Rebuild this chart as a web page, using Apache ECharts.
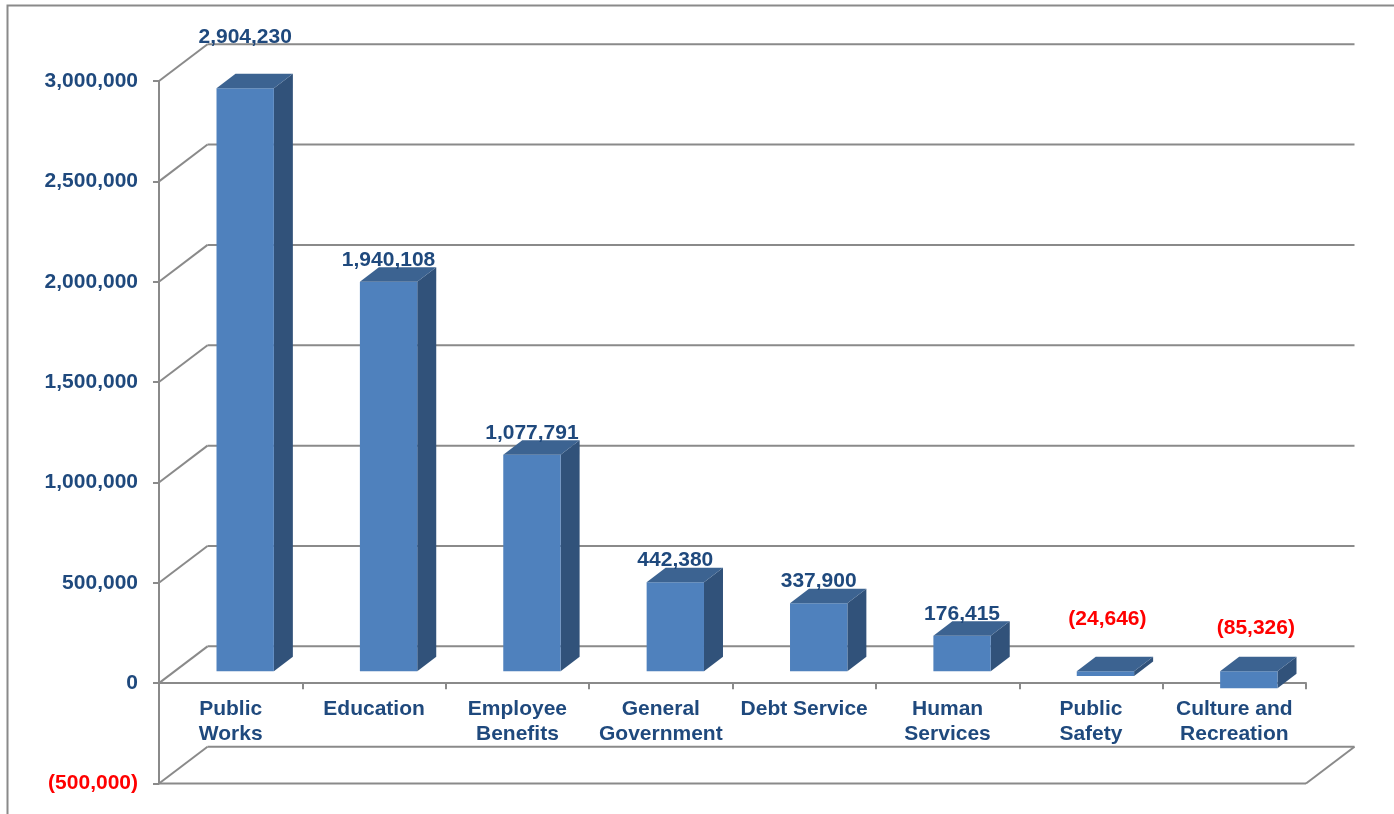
<!DOCTYPE html>
<html>
<head>
<meta charset="utf-8">
<title>Budget Change by Function</title>
<script src="https://cdn.jsdelivr.net/npm/echarts@6/dist/echarts.min.js"></script>
<style>
  html, body { margin: 0; padding: 0; background: #ffffff; }
  #chart { width: 1394px; height: 814px; }
</style>
</head>
<body>
<div id="chart"></div>
<script>
// Categories (two-line names as shown under the axis)
const categories = [
  'Public\nWorks',
  'Education',
  'Employee\nBenefits',
  'General\nGovernment',
  'Debt Service',
  'Human\nServices',
  'Public\nSafety',
  'Culture and\nRecreation'
];

// Change in dollars for each function
const values = [2904230, 1940108, 1077791, 442380, 337900, 176415, -24646, -85326];

// Value axis range and step
const yMin = -500000;
const yMax = 3000000;
const yStep = 500000;

// Plot area (front plane) in pixels
const GRID = { left: 159, right: 88, top: 81, bottom: 30.5 };
const CHART_H = 814;
const PLOT_H = CHART_H - GRID.top - GRID.bottom;
// distance from the bottom edge of the plot up to the zero line
const ZERO_RISE = PLOT_H * (0 - yMin) / (yMax - yMin);

// Pseudo-3D geometry (pixels)
const WALL_DX = 48.5, WALL_DY = -36.8;   // back wall offset from the front plane
const BAR_FX = 14.5, BAR_FY = -12;       // bar front face offset into the depth
const BAR_DX = 19, BAR_DY = -14.5;       // bar depth
const BAR_RATIO = 0.4;                   // bar width as a share of the band

const FONT = "'Liberation Sans', Arial, Helvetica, sans-serif";
const NAVY = '#1F497D';
const GRID_GRAY = '#8a8a8a';
const FRONT = '#4F81BD', SIDE = '#31527A', TOP = '#3C6391';

// Individual data-label nudges (dx, dy in px)
const labelNudge = {
  'Public\nWorks': [0, -29],
  'Public\nSafety': [2, -30],
  'Culture and\nRecreation': [7, -21]
};

function fmt(v) {
  const s = Math.abs(v).toLocaleString('en-US');
  return v < 0 ? '(' + s + ')' : s;
}

const chart = echarts.init(document.getElementById('chart'), null, { renderer: 'canvas' });

// Walls: diagonal tick connectors, back-wall gridlines and the floor outline
function renderWalls(params, api) {
  const cs = params.coordSys;
  const x0 = cs.x, x1 = cs.x + cs.width;
  const children = [];
  const line = (a, b, c, d) => children.push({
    type: 'line',
    shape: { x1: a, y1: b, x2: c, y2: d },
    style: { stroke: GRID_GRAY, lineWidth: 2 }
  });
  for (let v = yMin; v <= yMax; v += yStep) {
    const y = api.coord([0, v])[1];
    line(x0, y, x0 + WALL_DX, y + WALL_DY);
    line(x0 + WALL_DX, y + WALL_DY, x1 + WALL_DX, y + WALL_DY);
  }
  const yb = api.coord([0, yMin])[1];
  line(x0, yb, x1, yb);
  line(x1, yb, x1 + WALL_DX, yb + WALL_DY);
  return { type: 'group', children: children };
}

// 3D column: front face, side face, top face and its data label
function renderBar(params, api) {
  const idx = api.value(0);
  const val = api.value(1);
  const pv = api.coord([idx, val]);
  const p0 = api.coord([idx, 0]);
  const band = api.size([1, 0])[0];
  const w = band * BAR_RATIO;
  const xl = pv[0] - w / 2 + BAR_FX;
  const xr = xl + w;
  const yTop = Math.min(pv[1], p0[1]) + BAR_FY;
  const yBot = Math.max(pv[1], p0[1]) + BAR_FY;
  const name = categories[idx];
  const nudge = labelNudge[name] || [0, 0];
  return {
    type: 'group',
    children: [
      {
        type: 'polygon',
        shape: { points: [[xr, yTop], [xr + BAR_DX, yTop + BAR_DY], [xr + BAR_DX, yBot + BAR_DY], [xr, yBot]] },
        style: { fill: SIDE }
      },
      {
        type: 'rect',
        shape: { x: xl, y: yTop, width: w, height: yBot - yTop },
        style: { fill: FRONT }
      },
      {
        type: 'polygon',
        shape: { points: [[xl, yTop], [xl + BAR_DX, yTop + BAR_DY], [xr + BAR_DX, yTop + BAR_DY], [xr, yTop]] },
        style: { fill: TOP }
      },
      {
        type: 'text',
        style: {
          x: xl + w / 2 + nudge[0],
          y: yTop - 22 + nudge[1],
          text: fmt(val),
          fill: val < 0 ? '#FF0000' : NAVY,
          font: 'bold 21px ' + FONT,
          align: 'center',
          verticalAlign: 'middle'
        }
      }
    ]
  };
}

const option = {
  backgroundColor: '#ffffff',
  animation: false,
  graphic: [
    {
      type: 'polyline',
      shape: { points: [[7.5, 814], [7.5, 5.5], [1394, 5.5]] },
      style: { stroke: GRID_GRAY, lineWidth: 2, fill: null },
      z: 0
    }
  ],
  grid: {
    left: GRID.left, right: GRID.right, top: GRID.top, bottom: GRID.bottom,
    containLabel: false,
    outerBoundsMode: 'none'
  },
  xAxis: {
    type: 'category',
    data: categories,
    boundaryGap: true,
    position: 'bottom',
    // category axis sits on the zero line of the front plane
    offset: -ZERO_RISE,
    axisLine: { show: true, onZero: false, lineStyle: { color: GRID_GRAY, width: 2 } },
    axisTick: { show: true, length: 6, lineStyle: { color: GRID_GRAY, width: 2 } },
    axisLabel: {
      interval: 0,
      margin: 14,
      color: NAVY,
      fontSize: 21,
      fontWeight: 'bold',
      fontFamily: FONT,
      lineHeight: 25
    },
    splitLine: { show: false }
  },
  yAxis: {
    type: 'value',
    min: yMin,
    max: yMax,
    interval: yStep,
    axisLine: { show: true, lineStyle: { color: GRID_GRAY, width: 2 } },
    axisTick: { show: true, length: 6, lineStyle: { color: GRID_GRAY, width: 2 } },
    splitLine: { show: false },
    axisLabel: {
      margin: 21,
      color: NAVY,
      fontSize: 21,
      fontWeight: 'bold',
      fontFamily: FONT,
      formatter: function (v) {
        return v < 0 ? '{neg|' + fmt(v) + '}' : fmt(v);
      },
      rich: {
        neg: { color: '#FF0000', fontSize: 21, fontWeight: 'bold', fontFamily: FONT }
      }
    }
  },
  series: [
    {
      type: 'custom',
      name: 'walls',
      renderItem: renderWalls,
      data: [[0, 0]],
      silent: true,
      z: 1
    },
    {
      type: 'custom',
      name: 'Change',
      renderItem: renderBar,
      data: values.map(function (v, i) { return [i, v]; }),
      encode: { x: 0, y: 1 },
      z: 3
    }
  ]
};

chart.setOption(option);
</script>
</body>
</html>
